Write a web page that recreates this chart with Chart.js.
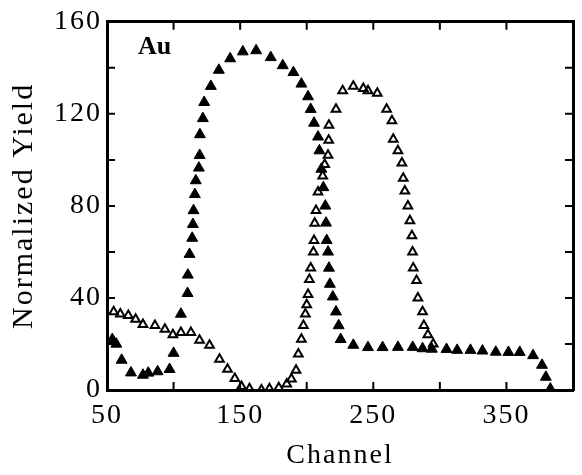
<!DOCTYPE html>
<html>
<head>
<meta charset="utf-8">
<script src="https://cdn.jsdelivr.net/npm/chart.js@4.4.0/dist/chart.umd.min.js"></script>
<style>
  html, body { margin: 0; padding: 0; background: #fff; }
  #wrap { width: 582px; height: 475px; }
</style>
</head>
<body>
<div id="wrap"><canvas id="auChart" width="582" height="475"></canvas></div>
<script>
// filled triangles
const chanFilled = [54, 57, 61, 68, 77, 81, 88, 97, 100, 105.5, 110.5, 110.7, 112, 114, 114.5, 115, 116, 116.7, 119, 119.6,
  119.8, 122, 123, 128, 134, 142.5, 152, 162, 173, 182, 190, 196, 201, 203, 205.5, 208.5, 209.5, 211, 212.5,
  214, 214.5, 215, 216, 216.7, 217.4, 219.6, 222, 224, 225.5, 235, 246, 257, 268.5, 279.6, 287, 294, 305, 313,
  323, 332, 342, 351.5, 360, 370, 376.7, 379.6, 383];
const yieldFilled = [22, 20, 13, 7.5, 6.5, 7.4, 8, 9, 16, 33, 42, 50, 59, 66, 72, 78, 85, 91, 96.5, 102,
  111, 118, 125, 132, 139, 144, 147, 147.5, 144.5, 141, 138, 133, 127.5, 122, 116, 110, 104, 96, 88,
  80, 72.6, 65, 60, 53, 46, 40.5, 34, 28, 22, 19.5, 18.5, 18.5, 18.6, 18.6, 18, 17.8, 17.7, 17.3,
  17.3, 17, 16.5, 16.4, 16.4, 15, 10.8, 5.6, 0.5];

// open triangles
const chanOpen = [55, 60, 66, 71.5, 77, 86, 93.5, 99.5, 105.5, 113, 119.5, 127, 134.5, 140.5, 146, 151, 157, 166, 172, 179,
  185, 188.5, 192, 193.7, 196, 197.5, 199, 200, 201, 202, 203, 205, 205.5, 206, 207, 208.5, 212, 213.5, 216, 216.5,
  216.7, 222, 227, 235, 242.5, 246, 253, 260, 264, 265, 268.5, 271.5, 272.5, 273.7, 276, 277.5, 279, 279.5, 280,
  282.5, 283.5, 287, 288, 291, 295];
const yieldOpen = [34, 33, 32.4, 30.7, 28.5, 28, 26.4, 24, 25, 25, 21.6, 19.5, 13.4, 9, 5, 1.5, 0.5, 0, 0.5, 1,
  2.6, 4.8, 8.6, 15.6, 22, 28, 33, 37, 41.5, 48, 53, 60, 65, 72.5, 78, 86, 93, 98, 102, 108.5,
  115, 122, 130, 132, 131, 130, 129, 122, 117, 109, 104, 98.6, 92, 86.5, 80, 73.5, 67, 60, 53,
  47.6, 40, 34, 28, 24, 20];

const xLabels = [50, 150, 250, 350];
const yLabels = [0, 40, 80, 120, 160];

const serif = "'Liberation Serif', 'DejaVu Serif', serif";

const toPoints = (xs, ys) => xs.map((x, i) => ({ x: x, y: ys[i] }));

// the scanned figure has loosely spaced lettering
const spacing = {
  id: 'spacing',
  beforeDraw(chart) { chart.ctx.letterSpacing = '2px'; }
};

// inward tick marks on all four sides + the "Au" tag
const frameTicks = {
  id: 'frameTicks',
  afterDraw(chart) {
    const { ctx, chartArea: a, scales } = chart;
    ctx.save();
    ctx.strokeStyle = '#000';
    ctx.lineWidth = 2;
    ctx.beginPath();
    scales.x.ticks.forEach(t => {
      const px = scales.x.getPixelForValue(t.value);
      if (px <= a.left + 2 || px >= a.right - 2) return;
      ctx.moveTo(px, a.bottom); ctx.lineTo(px, a.bottom - 8);
      ctx.moveTo(px, a.top); ctx.lineTo(px, a.top + 8);
    });
    scales.y.ticks.forEach(t => {
      const py = scales.y.getPixelForValue(t.value);
      if (py <= a.top + 2 || py >= a.bottom - 2) return;
      ctx.moveTo(a.left, py); ctx.lineTo(a.left + 8, py);
      ctx.moveTo(a.right, py); ctx.lineTo(a.right - 8, py);
    });
    ctx.stroke();
    ctx.fillStyle = '#000';
    ctx.letterSpacing = '0px';
    ctx.font = 'bold 26px ' + serif;
    ctx.textBaseline = 'top';
    ctx.fillText('Au', a.left + 31, a.top + 12);
    ctx.restore();
  }
};

const ctx = document.getElementById('auChart').getContext('2d');
const auChart = new Chart(ctx, {
  type: 'scatter',
  data: {
    datasets: [
      {
        label: 'filled',
        data: toPoints(chanFilled, yieldFilled),
        pointStyle: 'triangle',
        pointRadius: 6.3,
        backgroundColor: '#000',
        borderColor: '#000',
        borderWidth: 1
      },
      {
        label: 'open',
        data: toPoints(chanOpen, yieldOpen),
        pointStyle: 'triangle',
        pointRadius: 5,
        backgroundColor: 'rgba(0,0,0,0)',
        borderColor: '#000',
        borderWidth: 2
      }
    ]
  },
  options: {
    responsive: false,
    animation: false,
    layout: { padding: 0 },
    plugins: {
      legend: { display: false },
      tooltip: { enabled: false }
    },
    scales: {
      x: {
        type: 'linear', position: 'bottom', min: 50, max: 400,
        afterFit: s => { s.height = 85; },
        grid: { display: false, drawTicks: false },
        border: { display: true, color: '#000', width: 3 },
        ticks: {
          stepSize: 50, padding: 9, color: '#000', maxRotation: 0,
          font: { family: serif, size: 28 },
          callback: v => xLabels.includes(v) ? String(v) : ''
        },
        title: {
          display: true, text: 'Channel', color: '#000',
          font: { family: serif, size: 28 }, padding: { top: 0, bottom: 3 }
        }
      },
      x2: {
        type: 'linear', position: 'top', min: 50, max: 400,
        afterFit: s => { s.height = 18; },
        grid: { display: false, drawTicks: false },
        border: { display: true, color: '#000', width: 3 },
        ticks: { display: false }
      },
      y: {
        type: 'linear', position: 'left', min: 0, max: 160,
        afterFit: s => { s.width = 107; },
        grid: { display: false, drawTicks: false },
        border: { display: true, color: '#000', width: 3 },
        ticks: {
          stepSize: 20, padding: 5, color: '#000',
          font: { family: serif, size: 28 },
          callback: v => yLabels.includes(v) ? String(v) : ''
        },
        title: {
          display: true, text: 'Normalized Yield', color: '#000',
          font: { family: serif, size: 30 }, padding: { top: 6, bottom: 0 }
        }
      },
      y2: {
        type: 'linear', position: 'right', min: 0, max: 160,
        afterFit: s => { s.width = 5; },
        grid: { display: false, drawTicks: false },
        border: { display: true, color: '#000', width: 3 },
        ticks: { display: false }
      }
    }
  },
  plugins: [spacing, frameTicks]
});
</script>
</body>
</html>
